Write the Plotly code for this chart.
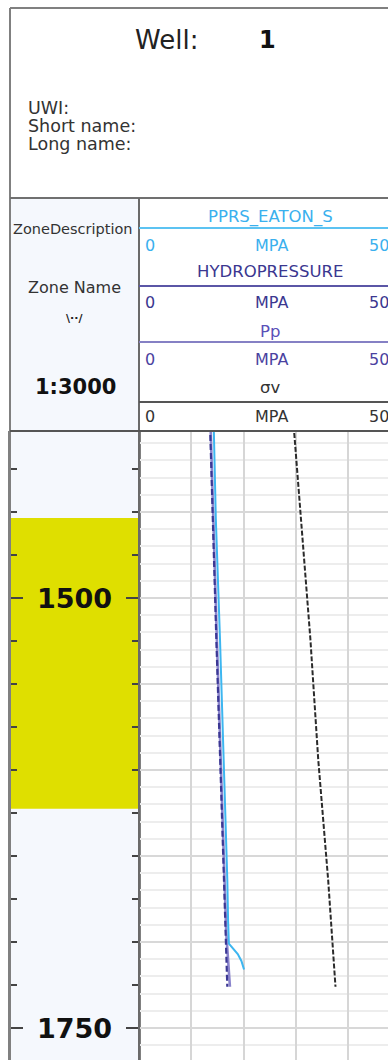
import plotly.graph_objects as go

W, H = 388, 1060

# ---- data -------------------------------------------------------------
WELL_NAME = "1"
HEADER_FIELDS = ["UWI:", "Short name:", "Long name:"]
SCALE_TEXT = "1:3000"

# visible depth window (m, MD)
DEPTH_TOP = 1402.9
DEPTH_BASE = 1768.6

# zones
ZONE_TOP = [1453.5]
ZONE_BASE = [1622.5]
ZONE_COLOR = ["#DFDF00"]

# depth labels drawn in the depth track
DEPTH_LABELS = [1500, 1750]

# curve track header
TRACK_CURVES = ["PPRS_EATON_S", "HYDROPRESSURE", "Pp", "σv"]
TRACK_UNITS = ["MPA", "MPA", "MPA", "MPA"]
TRACK_MIN = [0, 0, 0, 0]
TRACK_MAX = [50, 50, 50, 50]

# curves (depth m, pressure MPa)
EATON_DEPTH = [1400, 1454, 1524, 1600, 1664, 1688, 1701, 1707, 1711, 1716]
EATON_MPA = [14.3, 14.7, 15.5, 16.3, 16.9, 17.05, 17.2, 18.9, 19.6, 20.1]
HYDRO_DEPTH = [1400, 1455, 1524, 1600, 1664, 1726]
HYDRO_MPA = [13.6, 14.1, 14.8, 15.6, 16.2, 16.9]
PP_DEPTH = [1400, 1455, 1524, 1600, 1664, 1695, 1726]
PP_MPA = [13.7, 14.2, 14.9, 15.7, 16.3, 16.7, 17.4]
SV_DEPTH = [1400, 1524, 1594, 1664, 1726]
SV_MPA = [29.6, 32.8, 34.3, 36.2, 37.6]

# ---- styling ------------------------------------------------------------
FONT = "DejaVu Sans"
BG_LIGHT = "#F5F8FD"
CURVE_COLORS = ["#3DB6F0", "#3C3894", "#8A84CC", "#2A2A2A"]
HEAD_TEXT_COLORS = ["#3AB0EE", "#3B3790", "#4A42A0", "#333333"]
HEAD_NAME_COLORS = ["#3AB0EE", "#3B3790", "#5A50B8", "#333333"]
HEAD_LINE_COLORS = ["#5CC3F2", "#5B56A6", "#8580C4", "#555555"]


def fx(px):
    return px / W


def fy(py):
    return 1 - py / H


def label(text, x, y, size, color, xanchor="center", bold=False):
    if bold:
        text = "<b>" + text + "</b>"
    return dict(text=text, x=fx(x), y=fy(y), xref="paper", yref="paper",
                xanchor=xanchor, yanchor="middle", showarrow=False,
                font=dict(family=FONT, size=size, color=color))


TRACK_TOP_PX = 431
X_SPLIT_PX = 139
# px position of the 0 and 50 MPa scale ends of the curve track
SCALE_X0_PX, SCALE_X1_PX = 138.7, 400.3
X2_RIGHT = (W - SCALE_X0_PX) / (SCALE_X1_PX - SCALE_X0_PX) * (TRACK_MAX[0] - TRACK_MIN[0])

fig = go.Figure()

# curves
fig.add_trace(go.Scatter(x=PP_MPA, y=PP_DEPTH, mode="lines", xaxis="x2", yaxis="y2",
                         line=dict(color=CURVE_COLORS[2], width=2.6)))
fig.add_trace(go.Scatter(x=HYDRO_MPA, y=HYDRO_DEPTH, mode="lines", xaxis="x2", yaxis="y2",
                         line=dict(color=CURVE_COLORS[1], width=2.2, dash="6px,3px")))
fig.add_trace(go.Scatter(x=EATON_MPA, y=EATON_DEPTH, mode="lines", xaxis="x2", yaxis="y2",
                         line=dict(color=CURVE_COLORS[0], width=2)))
fig.add_trace(go.Scatter(x=SV_MPA, y=SV_DEPTH, mode="lines", xaxis="x2", yaxis="y2",
                         line=dict(color=CURVE_COLORS[3], width=2, dash="5px,2px")))

shapes = []
annotations = []

# header backgrounds and frame
shapes.append(dict(type="rect", xref="paper", yref="paper", layer="below",
                   x0=fx(10), x1=fx(X_SPLIT_PX), y0=fy(TRACK_TOP_PX), y1=fy(198),
                   fillcolor=BG_LIGHT, line=dict(width=0)))
# depth track background
shapes.append(dict(type="rect", xref="x domain", yref="y domain", layer="below",
                   x0=0, x1=1, y0=0, y1=1, fillcolor=BG_LIGHT, line=dict(width=0)))
# zones
for top, base, col in zip(ZONE_TOP, ZONE_BASE, ZONE_COLOR):
    shapes.append(dict(type="rect", xref="x domain", yref="y", layer="below",
                       x0=0, x1=1, y0=top, y1=base, fillcolor=col, line=dict(width=0)))

frame = "#808080"
for (x0, y0, x1, y1, col, w) in [
    (10, 8, W, 8, frame, 2),
    (10, 8, 10, H, frame, 2),
    (10, 198, W, 198, "#707070", 2),
    (X_SPLIT_PX, 198, X_SPLIT_PX, H, "#6A6A6A", 2),
    (10, TRACK_TOP_PX, W, TRACK_TOP_PX, "#555555", 2),
]:
    shapes.append(dict(type="line", xref="paper", yref="paper", layer="above",
                       x0=fx(x0), x1=fx(x1), y0=fy(y0), y1=fy(y1),
                       line=dict(color=col, width=w)))

# well header text
annotations.append(label("Well:", 166, 40, 26, "#222"))
annotations.append(label(WELL_NAME, 267, 40, 24, "#111", bold=True))
for i, t in enumerate(HEADER_FIELDS):
    annotations.append(label(t, 26, 108 + 18 * i, 17.5, "#333", xanchor="left"))

# depth track header text
annotations.append(label("ZoneDescription", 73, 229, 14.5, "#333"))
annotations.append(label("Zone Name", 74, 287, 16, "#333"))
annotations.append(label("\\··/", 74, 318, 11, "#222", bold=True))
annotations.append(label(SCALE_TEXT, 75, 387, 21, "#111", bold=True))

# curve track header rows
NAME_Y = [217, 272, 331, 388]
SCALE_Y = [245, 302, 359, 416]
LINE_Y = [228, 286, 342, 402]
for i, name in enumerate(TRACK_CURVES):
    annotations.append(label(name, 270, NAME_Y[i], 16.5, HEAD_NAME_COLORS[i]))
    annotations.append(label(str(TRACK_MIN[i]), 150, SCALE_Y[i], 16, HEAD_TEXT_COLORS[i]))
    annotations.append(label(TRACK_UNITS[i], 271, SCALE_Y[i], 16, HEAD_TEXT_COLORS[i]))
    annotations.append(label(str(TRACK_MAX[i]), 367, SCALE_Y[i], 16, HEAD_TEXT_COLORS[i],
                             xanchor="left"))
    shapes.append(dict(type="line", xref="paper", yref="paper", layer="above",
                       x0=fx(X_SPLIT_PX), x1=1, y0=fy(LINE_Y[i]), y1=fy(LINE_Y[i]),
                       line=dict(color=HEAD_LINE_COLORS[i], width=2)))

# depth labels
for d in DEPTH_LABELS:
    annotations.append(dict(text="<b>%d</b>" % d, x=0.5, y=d, xref="x domain", yref="y",
                            xanchor="center", yanchor="middle", showarrow=False,
                            font=dict(family=FONT, size=27, color="#111")))

dom_top = fy(TRACK_TOP_PX)
fig.update_layout(
    width=W, height=H, margin=dict(l=0, r=0, t=0, b=0),
    paper_bgcolor="white", plot_bgcolor="white", showlegend=False,
    xaxis=dict(domain=[fx(10), fx(X_SPLIT_PX)], range=[0, 1], showgrid=False,
               showticklabels=False, zeroline=False, ticks="", fixedrange=True),
    yaxis=dict(domain=[0, dom_top], range=[DEPTH_BASE, DEPTH_TOP], showgrid=False,
               zeroline=False, showticklabels=False, showline=True, linecolor="#808080",
               linewidth=2, mirror="ticks", ticks="inside", tickmode="linear",
               tick0=1500, dtick=250, ticklen=13, tickwidth=2, tickcolor="#444",
               minor=dict(ticks="inside", tick0=1500, dtick=25, ticklen=7, tickwidth=2,
                          tickcolor="#444", showgrid=False)),
    xaxis2=dict(domain=[fx(X_SPLIT_PX), 1], range=[0, X2_RIGHT], anchor="y2",
                showgrid=True, gridcolor="#D6D6D6", gridwidth=2, tickmode="linear",
                tick0=0, dtick=10, showticklabels=False, zeroline=False, ticks=""),
    yaxis2=dict(domain=[0, dom_top], matches="y", anchor="x2", showticklabels=False,
                zeroline=False, ticks="", showgrid=True, gridcolor="#D8D8D8", gridwidth=2,
                tickmode="linear", tick0=1500, dtick=50,
                minor=dict(showgrid=True, tick0=1500, dtick=10, gridcolor="#EDEDED",
                           gridwidth=2)),
    shapes=shapes, annotations=annotations,
)

fig.write_html("out.html", config={"displayModeBar": False})
